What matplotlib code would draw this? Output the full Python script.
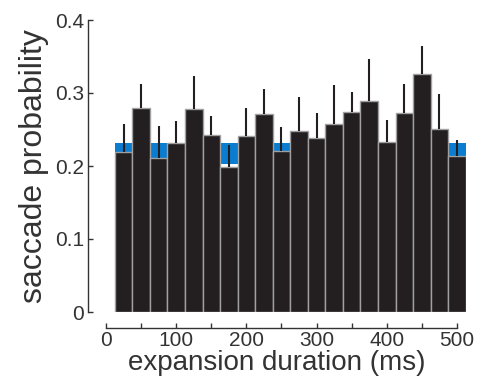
import numpy as np
import matplotlib.pyplot as plt
from matplotlib.ticker import MultipleLocator

# saccade probability vs expansion duration
duration = np.arange(25, 525, 25)
prob = [0.219, 0.280, 0.211, 0.232, 0.278, 0.243, 0.199, 0.241, 0.271, 0.221,
        0.248, 0.239, 0.258, 0.274, 0.289, 0.233, 0.272, 0.326, 0.251, 0.214]
err = [0.039, 0.032, 0.044, 0.029, 0.045, 0.025, 0.030, 0.039, 0.034, 0.033,
       0.047, 0.034, 0.053, 0.028, 0.058, 0.030, 0.040, 0.039, 0.048, 0.022]
baseline_lo = 0.203
baseline_hi = 0.231

plt.rcParams['font.family'] = ['Liberation Sans', 'DejaVu Sans']
txt = '#333333'

fig = plt.figure(figsize=(4.81, 3.80), dpi=100)
ax = fig.add_axes([88/481, 68/380, 378/481, 292/380])

width = 25
ax.fill_between([duration[0] - width/2, duration[-1] + width/2], baseline_lo, baseline_hi,
                color='#0b7dd0', linewidth=0, zorder=1)
ax.bar(duration, prob, width, color='#231f20', edgecolor='#a0a0a0', linewidth=1, zorder=2)
ax.errorbar(duration, prob, yerr=[np.zeros(len(err)), err], fmt='none',
            ecolor='#231f20', elinewidth=1.5, capsize=0, zorder=3)

ax.set_xlim(-25.6, 512.8)
ax.set_ylim(0, 0.4)

for s in ['top', 'right']:
    ax.spines[s].set_visible(False)
ax.spines['bottom'].set_position(('outward', 11.5))
ax.spines['bottom'].set_bounds(0, 500)
ax.spines['left'].set_bounds(0, 0.4)
for s in ['bottom', 'left']:
    ax.spines[s].set_color('#333333')
    ax.spines[s].set_linewidth(1)

ax.xaxis.set_major_locator(MultipleLocator(100))
ax.xaxis.set_minor_locator(MultipleLocator(50))
ax.set_yticks([0, 0.1, 0.2, 0.3, 0.4])
ax.set_yticklabels(['0', '0.1', '0.2', '0.3', '0.4'])
ax.tick_params(axis='both', which='both', direction='in', length=3.5, width=1,
               color='#333333', labelsize=15, labelcolor=txt)
ax.tick_params(axis='x', pad=2)
ax.tick_params(axis='y', pad=3)

ax.set_xlabel('expansion duration (ms)', fontsize=20, color=txt, labelpad=0)
ax.set_ylabel('saccade probability', fontsize=23, color=txt, labelpad=4)

plt.savefig('out.png', dpi=100)
